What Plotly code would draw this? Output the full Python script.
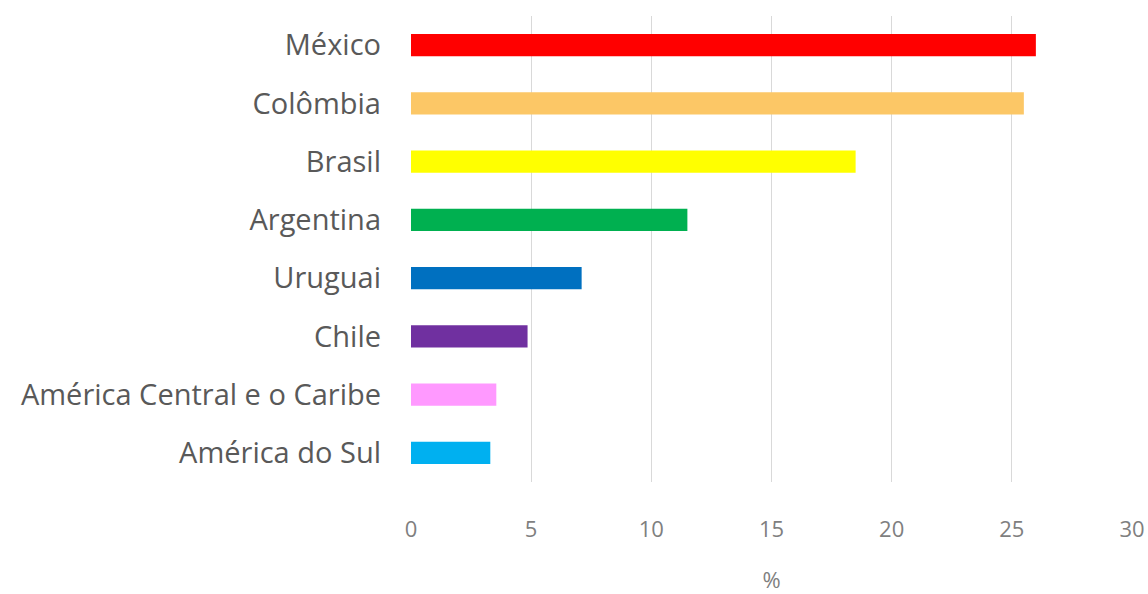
import plotly.graph_objects as go

# Share (%) by country/region
categories = ["México", "Colômbia", "Brasil", "Argentina", "Uruguai", "Chile",
              "América Central e o Caribe", "América do Sul"]
values = [26.0, 25.5, 18.5, 11.5, 7.1, 4.85, 3.55, 3.3]
colors = ["#ff0000", "#fcc766", "#ffff00", "#00b050", "#0070c0", "#7030a0",
          "#ff99ff", "#00b0f0"]
x_ticks = [0, 5, 10, 15, 20, 25, 30]

fig = go.Figure(
    go.Bar(
        x=values,
        y=categories,
        orientation="h",
        marker=dict(color=colors, line=dict(width=0)),
        width=0.38,
        hoverinfo="x+y",
    )
)

fig.update_layout(
    width=1148,
    height=594,
    margin=dict(l=411, r=16, t=16, b=112),
    paper_bgcolor="white",
    plot_bgcolor="white",
    font=dict(family="Open Sans", color="#595959"),
    showlegend=False,
)

fig.update_xaxes(
    range=[0, 30],
    tickvals=x_ticks,
    ticktext=[str(t) for t in x_ticks],
    showgrid=True,
    gridcolor="#d9d9d9",
    gridwidth=1,
    zeroline=False,
    showline=False,
    ticks="",
    automargin=False,
    ticklabelstandoff=32,
    tickfont=dict(size=22, color="#7f7f7f"),
    title=dict(text="%", font=dict(size=22, color="#7f7f7f"), standoff=32),
)

fig.update_yaxes(
    categoryorder="array",
    categoryarray=categories[::-1],
    showgrid=False,
    zeroline=False,
    showline=False,
    ticks="",
    automargin=False,
    ticklabelstandoff=29,
    tickfont=dict(size=29, color="#595959"),
)

fig.write_html("out.html")
